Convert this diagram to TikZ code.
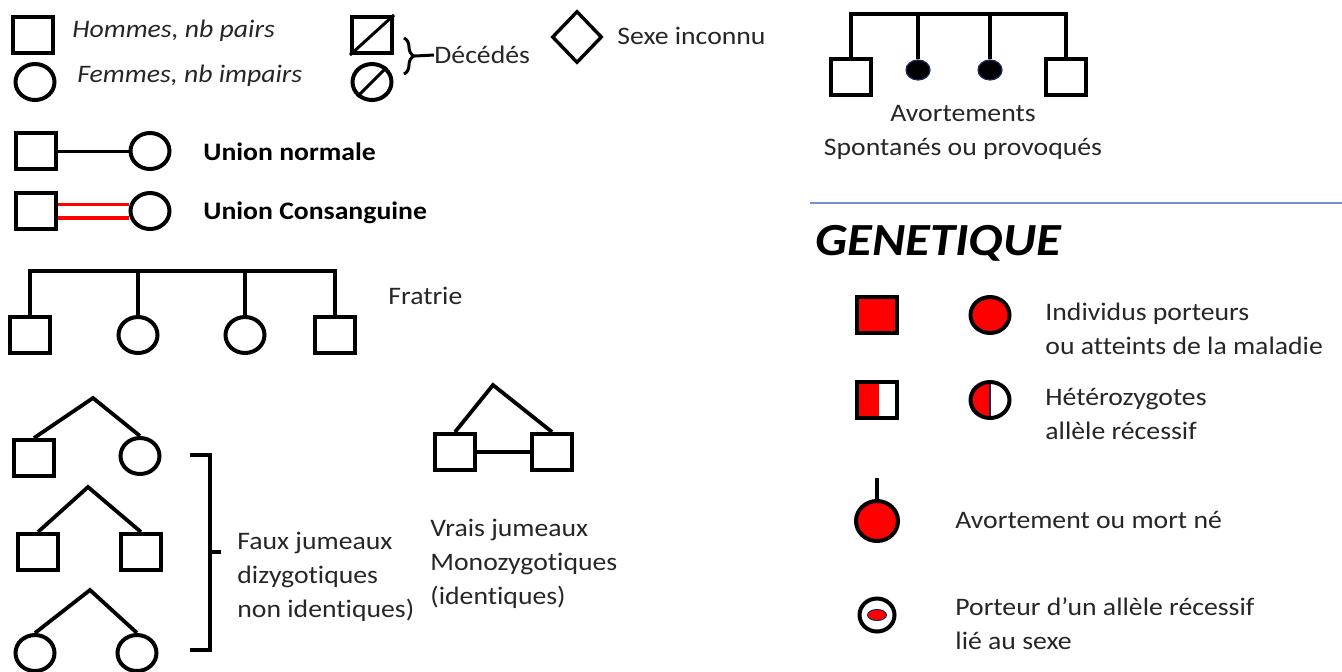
\documentclass[tikz,border=0pt]{standalone}
\usepackage{fontspec}
\setmainfont{Carlito}[FakeStretch=1.1, Ligatures=NoCommon]
\usetikzlibrary{shapes.geometric,decorations.pathreplacing}
\colorlet{tcol}{black!85}
\definecolor{colR}{rgb}{1,0,0}
\definecolor{colL}{rgb}{.44,.57,.80}
\definecolor{colN}{rgb}{.12,.16,.38}
\newcommand\txtsize{\fontsize{12.6}{17}\selectfont}
\tikzstyle{male}=[rectangle, draw, line width=2pt, minimum width=20pt, minimum height=18pt, inner sep=0pt]
\tikzstyle{female}=[ellipse, draw, line width=2pt, minimum width=19.5pt, minimum height=18pt, inner sep=0pt]
\tikzstyle{unkn}=[diamond, draw, line width=1.7pt, minimum width=25pt, minimum height=26pt, inner sep=0pt]
\tikzstyle{conn}=[line width=1.5pt]
\tikzstyle{bar}=[line width=1.9pt]
\tikzstyle{txt}=[anchor=west, text=tcol, font=\txtsize, align=left, inner sep=0pt]
\tikzstyle{btxt}=[txt, text=black, font=\txtsize\bfseries]

\begin{document}
\begin{tikzpicture}[x=0.5pt,y=-0.5pt]
	\useasboundingbox (0,0) rectangle (1342,671);
	% symboles de base
	\node[male] (hm) at (33,35) {};
	\node[female] (fm) at (35,82) {};
	\node[txt, font=\txtsize\itshape] (thm) at (72,31) {Hommes, nb pairs};
	\node[txt, font=\txtsize\itshape] (tfm) at (77,76) {Femmes, nb impairs};
	\node[male] (dm) at (372,35) {};
	\node[female] (df) at (372,82) {};
	\draw[conn] (dm.south west) -- (dm.north east);
	\draw[conn] (df.225) -- (df.45);
	\coordinate (b1) at (404,38);
	\coordinate (b2) at (404,74);
	\coordinate (bt) at (415,56);
	\draw[conn, decorate, decoration={brace, amplitude=5pt}] (b1) -- (b2);
	\node[txt] (dec) at (434,55) {Décédés};
	\draw[conn] (bt) -- (dec.west);
	\node[unkn] (sx) at (577,37) {};
	\node[txt] (tsx) at (617,36) {Sexe inconnu};
	% unions
	\node[male] (un1) at (36,151) {};
	\node[female] (un2) at (150,151) {};
	\draw[conn] (un1) -- (un2);
	\node[btxt] (tun) at (203,152) {Union normale};
	\node[male] (uc1) at (36,211) {};
	\node[female] (uc2) at (150,211) {};
	\draw[bar, colR] ([yshift=3.3pt]uc1.east) -- ([yshift=3.3pt]uc1.east -| uc2.west);
	\draw[bar, colR] ([yshift=-3.3pt]uc1.east) -- ([yshift=-3.3pt]uc1.east -| uc2.west);
	\node[btxt] (tuc) at (203,213) {Union Consanguine};
	% fratrie
	\coordinate (fbar) at (0,271);
	\node[male] (f1) at (30,335) {};
	\node[female] (f2) at (138,335) {};
	\node[female] (f3) at (245,335) {};
	\node[male] (f4) at (335,335) {};
	\draw[bar] (f1.north) |- (fbar -| f4.north) -- (f4.north);
	\draw[bar] (f2.north) -- (f2.north |- fbar);
	\draw[bar] (f3.north) -- (f3.north |- fbar);
	\node[txt] (tfr) at (388,296) {Fratrie};
	% faux jumeaux
	\coordinate (t1) at (93,398);
	\node[male] (t1a) at (34,458) {};
	\node[female] (t1b) at (140,456) {};
	\draw[bar] (t1a.north) -- (t1) -- (t1b.north);
	\coordinate (t2) at (88,487);
	\node[male] (t2a) at (38,552) {};
	\node[male] (t2b) at (141,552) {};
	\draw[bar] (t2a.north) -- (t2) -- (t2b.north);
	\coordinate (t3) at (90,590);
	\node[female] (t3a) at (35,653) {};
	\node[female] (t3b) at (137,653) {};
	\draw[bar] (t3a.north) -- (t3) -- (t3b.north);
	\draw[line width=2.4pt] (190,455) -- (210,455) -- (210,650) -- (190,650) (210,552) -- (221,552);
	\node[txt] (tfj) at (237,577) {Faux jumeaux\\dizygotiques\\non identiques)};
	% vrais jumeaux
	\coordinate (t4) at (493,385);
	\node[male] (t4a) at (455,452) {};
	\node[male] (t4b) at (552,452) {};
	\draw[bar] (t4a.north) -- (t4) -- (t4b.north);
	\draw[bar] (t4a) -- (t4b);
	\node[txt] (tvj) at (430,564) {Vrais jumeaux\\Monozygotiques\\(identiques)};
	% avortements
	\coordinate (abar) at (0,14);
	\node[male] (s1) at (851,77) {};
	\node[ellipse, fill=black, draw=colN, line width=0.6pt, minimum width=12pt, minimum height=10pt, inner sep=0pt] (s2) at (918,70) {};
	\node[ellipse, fill=black, draw=colN, line width=0.6pt, minimum width=12pt, minimum height=10pt, inner sep=0pt] (s3) at (990,70) {};
	\node[male] (s4) at (1066,77) {};
	\draw[bar] (s1.north) |- (abar -| s4.north) -- (s4.north);
	\draw[bar] (s2.north) -- (s2.north |- abar);
	\draw[bar] (s3.north) -- (s3.north |- abar);
	\node[txt, anchor=center, align=center] (tav) at (963,132) {Avortements\\Spontanés ou provoqués};
	% genetique
	\draw[colL, line width=1pt] (810,203) -- (1342,203);
	\node[txt, text=black, font=\fontsize{23}{26}\selectfont\bfseries\itshape] (gen) at (815,243) {GENETIQUE};
	\node[male, fill=colR] (gs) at (877,315) {};
	\node[female, fill=colR] (gc) at (990,315) {};
	\node[txt] (tgs) at (1045,329) {Individus porteurs\\ou atteints de la maladie};
	\node[male, path picture={\fill[colR] (path picture bounding box.south west) rectangle ([xshift=11pt]path picture bounding box.north west);}] (hs) at (877,400) {};
	\node[female, path picture={\fill[colR] (path picture bounding box.south west) rectangle (path picture bounding box.north);
		\draw[colN, line width=0.6pt] (path picture bounding box.south) -- (path picture bounding box.north);}] (hc) at (990,400) {};
	\node[txt] (ths) at (1045,414) {Hétérozygotes\\allèle récessif};
	\coordinate (abt) at (877,478);
	\node[female, fill=colR, minimum width=21pt, minimum height=20pt] (ab) at (877,521) {};
	\draw[bar] (abt) -- (ab.north);
	\node[txt] (tab) at (955,520) {Avortement ou mort né};
	\node[female, minimum width=17.5pt, minimum height=16.5pt] (xl) at (877,615) {};
	\node[ellipse, fill=colR, draw=colN, line width=0.5pt, minimum width=9.5pt, minimum height=5.5pt, inner sep=0pt] (xi) at (xl) {};
	\node[txt] (txl) at (955,624) {Porteur d’un allèle récessif\\lié au sexe};
\end{tikzpicture}
\end{document}
